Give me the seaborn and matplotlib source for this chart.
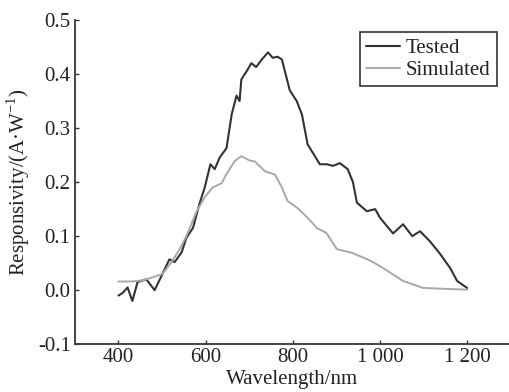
import pandas as pd
import matplotlib
matplotlib.use("Agg")
import matplotlib.pyplot as plt
import seaborn as sns

# values
tested_nm = [400, 410, 421, 432, 444, 464, 483, 501, 517, 529, 545, 556, 571, 586, 598,
             611, 621, 632, 648, 660, 671, 678, 682, 694, 705, 716, 729, 743, 754, 765,
             775, 793, 809, 821, 834, 862, 878, 892, 908, 926, 938, 947, 970, 989, 1000,
             1030, 1053, 1074, 1092, 1115, 1138, 1161, 1177, 1200]
tested_resp = [-0.01, -0.005, 0.005, -0.02, 0.015, 0.02, 0.0, 0.03, 0.057, 0.052, 0.07, 0.097, 0.115, 0.16, 0.19,
               0.233, 0.224, 0.245, 0.263, 0.326, 0.36, 0.35, 0.39, 0.405, 0.42, 0.413, 0.427, 0.44, 0.43, 0.432,
               0.427, 0.37, 0.35, 0.325, 0.27, 0.233, 0.233, 0.23, 0.235, 0.224, 0.2, 0.162, 0.146, 0.15, 0.134,
               0.105, 0.122, 0.1, 0.109, 0.09, 0.067, 0.041, 0.017, 0.004]

sim_nm = [400, 430, 455, 480, 501, 520, 540, 556, 579, 598, 616, 637, 648, 667, 682,
          701, 713, 736, 759, 775, 788, 811, 834, 855, 877, 901, 936, 977, 1007, 1053,
          1099, 1161, 1200]
sim_resp = [0.016, 0.016, 0.018, 0.024, 0.03, 0.05, 0.075, 0.1, 0.145, 0.172, 0.19, 0.198, 0.215, 0.239, 0.248,
            0.24, 0.238, 0.22, 0.214, 0.19, 0.165, 0.152, 0.134, 0.115, 0.106, 0.076, 0.069, 0.055, 0.041, 0.017,
            0.004, 0.002, 0.001]

xticks = [400, 600, 800, 1000, 1200]
xtick_labels = ["400", "600", "800", "1 000", "1 200"]
yticks = [-0.1, 0.0, 0.1, 0.2, 0.3, 0.4, 0.5]


def main():
    sns.set_style("ticks")
    plt.rcParams["font.family"] = ["Liberation Serif", "DejaVu Serif"]
    plt.rcParams["mathtext.fontset"] = "custom"
    plt.rcParams["mathtext.rm"] = "Liberation Serif"

    df1 = pd.DataFrame({"nm": tested_nm, "resp": tested_resp})
    df2 = pd.DataFrame({"nm": sim_nm, "resp": sim_resp})

    fig = plt.figure(figsize=(5.09, 3.92), dpi=100)
    ax = fig.add_axes([0.147, 0.122, 0.853, 0.827])

    sns.lineplot(data=df1, x="nm", y="resp", ax=ax, color="#333333", lw=1.5, label="Tested")
    sns.lineplot(data=df2, x="nm", y="resp", ax=ax, color="#a8a8a8", lw=1.4, label="Simulated")

    ax.set_xlim(300, 1296)
    ax.set_ylim(-0.1, 0.5)
    ax.set_xticks(xticks)
    ax.set_xticklabels(xtick_labels)
    ax.set_yticks(yticks)
    ax.set_yticklabels([f"{v:.1f}" for v in yticks])
    ax.tick_params(direction="in", length=3, width=1, labelsize=15, colors="#333333",
                   labelcolor="#222222", pad=3)
    for s in ["top", "right"]:
        ax.spines[s].set_visible(False)
    for s in ["left", "bottom"]:
        ax.spines[s].set_linewidth(1.4)
        ax.spines[s].set_color("#444444")

    ax.set_xlabel("Wavelength/nm", fontsize=15, labelpad=2, color="#222222")
    ax.set_ylabel(r"Responsivity/(A·W$^{\mathrm{-1}}$)", fontsize=15, labelpad=4, color="#222222")

    leg = ax.legend(loc="upper right", bbox_to_anchor=(0.972, 0.963), fontsize=15,
                    handlelength=1.6, handletextpad=0.3, borderpad=0.3,
                    labelspacing=0.12, borderaxespad=0, fancybox=False, framealpha=1)
    leg.get_frame().set_edgecolor("#333333")
    leg.get_frame().set_linewidth(1.2)
    for t in leg.get_texts():
        t.set_color("#222222")

    fig.savefig("out.png", dpi=100)


main()
